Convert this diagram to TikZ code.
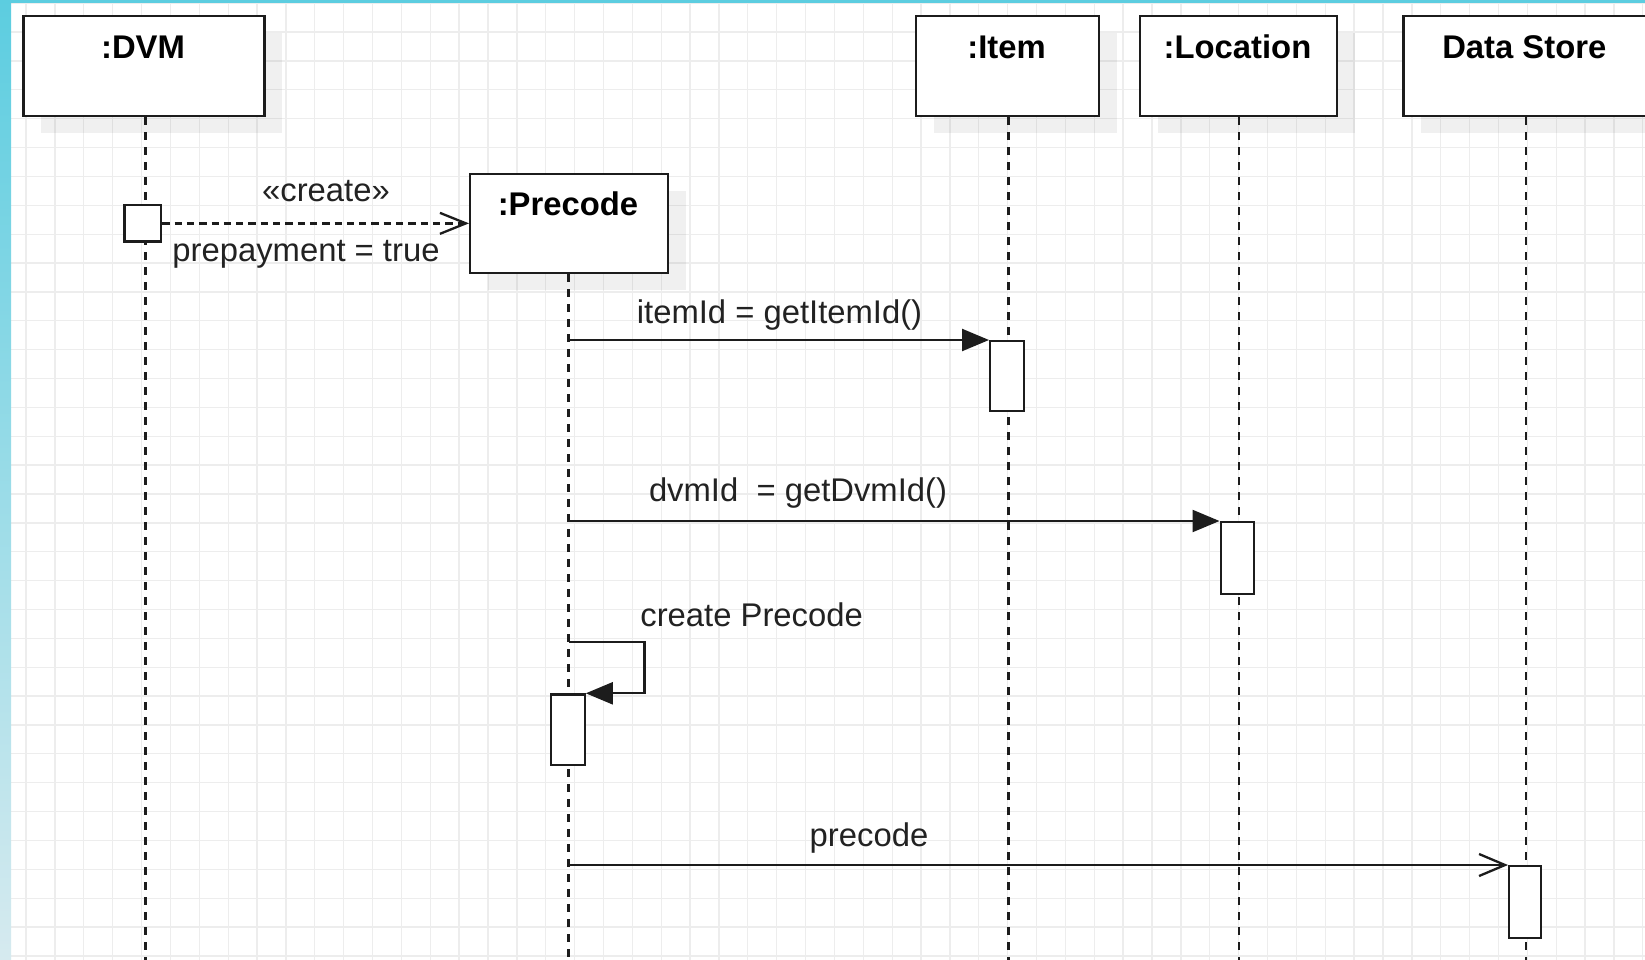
\documentclass[tikz,border=0pt]{standalone}
\usepackage{fontspec}
\setmainfont{Liberation Sans}
\usetikzlibrary{arrows.meta,shadows,calc}
\definecolor{gridc}{HTML}{EDEDED}
\definecolor{bordtop}{HTML}{5CCDE0}
\definecolor{bordbot}{HTML}{D6EAEF}
\definecolor{ink}{HTML}{1C1C1C}
\definecolor{txt}{HTML}{222222}
\begin{document}
\begin{tikzpicture}[x=1pt,y=-1pt,
  objbox/.style={draw=ink,line width=2.3pt,fill=white,inner sep=0pt,anchor=north west,
     drop shadow={shadow xshift=18pt,shadow yshift=-17pt,opacity=0.06,fill=black}},
  actbox/.style={draw=ink,line width=2.3pt,fill=white,inner sep=0pt,anchor=north west},
  headtext/.style={font=\fontsize{32.8pt}{39pt}\selectfont\bfseries,text=black,anchor=base,inner sep=0pt},
  msgtext/.style={font=\fontsize{32.8pt}{39pt}\selectfont,text=txt,anchor=base,inner sep=0pt},
  lifeline/.style={draw=ink,line width=2.3pt,dash pattern=on 7.5pt off 7.5pt},
  callmsg/.style={draw=ink,line width=2.3pt,-{Triangle[length=27pt,width=22pt]}},
  createmsg/.style={draw=ink,line width=2.3pt,dash pattern=on 7.3pt off 5pt,-{Straight Barb[length=26pt,width=21pt]}},
  replymsg/.style={draw=ink,line width=2.3pt,-{Straight Barb[length=26pt,width=22pt]}}
]
\useasboundingbox (0,0) rectangle (1645,960);
\clip (0,0) rectangle (1645,960);
% background and grid
\fill[white] (0,0) rectangle (1645,960);
\foreach \i in {1,...,57} \draw[gridc,line width=1.3pt] ({-2.8+28.87*\i},0) -- ({-2.8+28.87*\i},960);
\foreach \j in {0,...,33} \draw[gridc,line width=1.3pt] (0,{3.2+28.87*\j}) -- (1645,{3.2+28.87*\j});
% window borders
\shade[top color=bordtop,bottom color=bordbot] (0,0) rectangle (11,960);
\fill[bordtop] (0,0) rectangle (1645,3);

% object heads
\node[objbox,minimum width=241pt,minimum height=100pt] (dvm) at (22.3,15) {};
\node[headtext] (dvmt) at (143,58.3) {:DVM};
\node[objbox,minimum width=197.7pt,minimum height=99pt] (pre) at (469,173) {};
\node[headtext] (pret) at (568,215) {:Precode};
\node[objbox,minimum width=183.3pt,minimum height=100pt] (item) at (914.7,15) {};
\node[headtext] (itemt) at (1006.5,58.3) {:Item};
\node[objbox,minimum width=197.4pt,minimum height=100pt] (loc) at (1138.6,15) {};
\node[headtext] (loct) at (1237.5,58.3) {:Location};
\node[objbox,minimum width=250pt,minimum height=100pt] (ds) at (1402.3,15) {};
\node[headtext] (dst) at (1524.3,58.3) {Data Store};

% lifelines
\coordinate (dvmend) at (145.5,960);
\coordinate (preend) at (568.6,960);
\coordinate (itemend) at (1008.5,960);
\coordinate (locend) at (1239,960);
\coordinate (dsend) at (1526,960);
\draw[lifeline] (dvm.south -| dvmend) -- (dvmend);
\draw[lifeline] (pre.south -| preend) -- (preend);
\draw[lifeline] (item.south -| itemend) -- (itemend);
\draw[lifeline] (loc.south -| locend) -- (locend);
\draw[lifeline] (ds.south -| dsend) -- (dsend);

% activations
\node[actbox,minimum width=36.7pt,minimum height=36.4pt] (dvmact) at (123.3,204) {};
\node[actbox,minimum width=33.6pt,minimum height=70pt] (itemact) at (989,340) {};
\node[actbox,minimum width=33.5pt,minimum height=71.7pt] (locact) at (1219.5,521) {};
\node[actbox,minimum width=33.5pt,minimum height=70.2pt] (preact) at (550,693.3) {};
\node[actbox,minimum width=32pt,minimum height=71.7pt] (dsact) at (1508,865) {};

% messages
\draw[createmsg] (dvmact.east) -- (dvmact.east -| pre.west);
\node[msgtext] (lcreate) at (326,201.7) {«create»};
\node[msgtext] (lprepay) at (306,261.7) {prepayment = true};

\coordinate (m1) at (568.6,340);
\draw[callmsg] (m1) -- (itemact.north west);
\node[msgtext] (lm1) at (779.5,323) {itemId = getItemId()};

\coordinate (m2) at (568.6,521);
\draw[callmsg] (m2) -- (locact.north west);
\node[msgtext] (lm2) at (798,501.7) {dvmId\ \ = getDvmId()};

\coordinate (s0) at (568.6,642.3);
\coordinate (s1) at (644.5,642.3);
\draw[callmsg] (s0) -- (s1) |- (preact.north east);
\node[msgtext] (lm3) at (751.6,626) {create Precode};

\coordinate (m4) at (568.6,865);
\draw[replymsg] (m4) -- (dsact.north west);
\node[msgtext] (lm4) at (869,846.7) {precode};
\end{tikzpicture}
\end{document}
